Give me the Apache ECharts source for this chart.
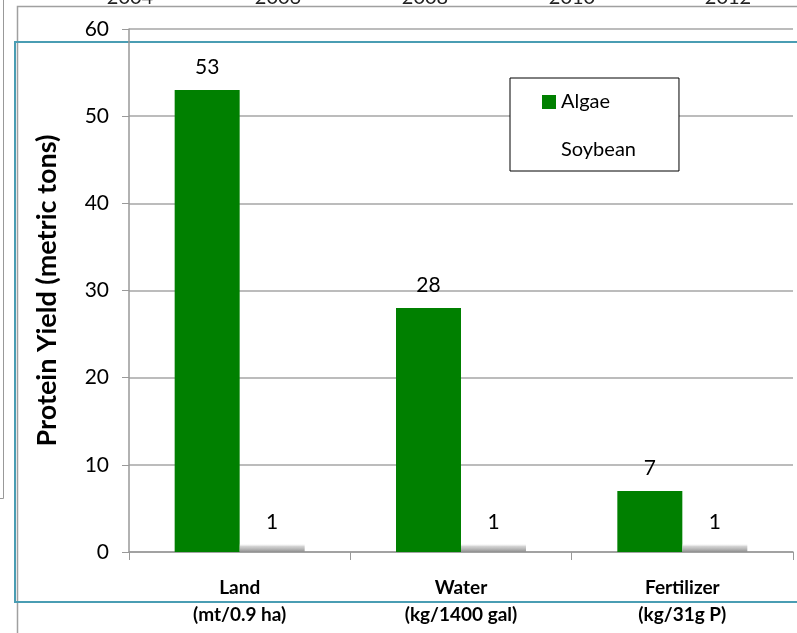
<!DOCTYPE html>
<html>
<head>
<meta charset="utf-8">
<script src="https://cdn.jsdelivr.net/npm/echarts@6/dist/echarts.min.js"></script>
<style>html,body{margin:0;padding:0;background:#fff}#c{width:797px;height:633px}</style>
</head>
<body>
<div id="c"></div>
<script>
const categories = ["Land\n(mt/0.9 ha)", "Water\n(kg/1400 gal)", "Fertilizer\n(kg/31g P)"];
const algae = [53, 28, 7];
const soybean = [1, 1, 1];
const yTicks = [0, 10, 20, 30, 40, 50, 60];
const years = ["2004", "2006", "2008", "2010", "2012"];

const FONT = 'Lato, "Open Sans", sans-serif';
const chart = echarts.init(document.getElementById('c'));

const yearX = [130, 278, 425, 572, 728];
const graphic = years.map((y, i) => ({
  type: 'text', x: yearX[i], y: -12,
  style: { text: y, font: '20px ' + FONT, fill: '#222', align: 'center', verticalAlign: 'top' }
}));
graphic.push(
  { type: 'rect', shape: { x: -10, y: -10, width: 13.5, height: 508.5 }, style: { fill: 'none', stroke: '#999', lineWidth: 1 } },
  { type: 'rect', shape: { x: 17.5, y: 6.5, width: 820, height: 700 }, style: { fill: 'none', stroke: '#a0a0a0', lineWidth: 1.5 } },
  { type: 'rect', shape: { x: 15, y: 42, width: 820, height: 560 }, style: { fill: 'none', stroke: '#4a9db3', lineWidth: 2 } }
);

chart.setOption({
  animation: false,
  textStyle: { fontFamily: FONT },
  graphic: graphic,
  grid: { left: 129, right: 4, top: 29, bottom: 81, containLabel: false },
  legend: {
    orient: 'vertical', left: 510, top: 78,
    backgroundColor: '#fff', borderColor: '#000', borderWidth: 1,
    padding: [14, 43, 11, 32], itemGap: 28, itemWidth: 14, itemHeight: 14,
    textStyle: { fontSize: 20, color: '#000', fontFamily: FONT },
    data: [
      { name: 'Algae', icon: 'rect', itemStyle: { color: '#008000' } },
      { name: 'Soybean', icon: 'rect', itemStyle: { color: '#fff', shadowBlur: 0 } }
    ]
  },
  xAxis: {
    type: 'category', data: categories,
    axisLine: { lineStyle: { color: '#999', width: 1.5 } },
    axisTick: { show: true, length: 8, lineStyle: { color: '#999' } },
    axisLabel: { fontSize: 19, fontWeight: 'bold', color: '#000', margin: 22, lineHeight: 27, fontFamily: FONT }
  },
  yAxis: {
    type: 'value', min: yTicks[0], max: yTicks[yTicks.length - 1], interval: 10,
    name: 'Protein Yield (metric tons)', nameLocation: 'middle', nameGap: 68,
    nameTextStyle: { fontSize: 27, fontWeight: 'bold', color: '#000', fontFamily: FONT },
    axisLine: { show: true, lineStyle: { color: '#999', width: 1.5 } },
    axisTick: { show: true, length: 7, lineStyle: { color: '#999' } },
    axisLabel: { fontSize: 21, color: '#000', margin: 20, fontFamily: FONT },
    splitLine: { lineStyle: { color: '#a6a6a6', width: 1.5 } }
  },
  series: [
    {
      name: 'Algae', type: 'bar', data: algae, barWidth: 65, barGap: '0%',
      itemStyle: { color: '#008000' },
      label: { show: true, position: 'top', distance: 12, fontSize: 21, color: '#000', fontFamily: FONT }
    },
    {
      name: 'Soybean', type: 'bar', data: soybean, barWidth: 65,
      itemStyle: {
        color: new echarts.graphic.LinearGradient(0, 0, 0, 1, [
          { offset: 0, color: 'rgba(255,255,255,0)' },
          { offset: 0.35, color: 'rgba(200,200,200,0.8)' },
          { offset: 1, color: '#8f8f8f' }
        ])
      },
      label: { show: true, position: 'top', distance: 11, fontSize: 21, color: '#000', fontFamily: FONT }
    }
  ]
});
</script>
</body>
</html>
